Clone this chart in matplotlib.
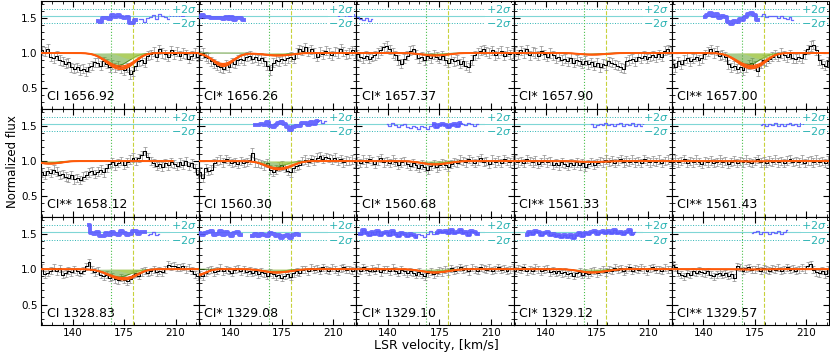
import matplotlib
matplotlib.use('Agg')
import matplotlib.pyplot as plt
import numpy as np
from matplotlib.ticker import MultipleLocator

# ---------------- data ----------------
VEL = np.arange(119, 226, 2)          # pixel centres, km/s (54 bins)

LABELS = ['CI 1656.92', 'CI* 1656.26', 'CI* 1657.37', 'CI* 1657.90', 'CI** 1657.00',
          'CI** 1658.12', 'CI 1560.30', 'CI* 1560.68', 'CI** 1561.33', 'CI** 1561.43',
          'CI 1328.83', 'CI* 1329.08', 'CI* 1329.10', 'CI* 1329.12', 'CI** 1329.57']

FLUX_1 = [1.04,1.02,1.06,0.95,0.93,0.96,0.90,0.88,0.85,0.87, 0.80,0.78,0.80,0.76,0.78,0.74,0.80,0.82,0.87,0.86,
          0.82,0.88,0.85,0.80,0.84,0.80,0.82,0.78,0.76,0.80, 0.70,0.74,0.82,0.88,0.90,0.86,0.96,0.98,1.02,0.95,
          1.05,1.00,0.98,0.95,1.04,0.98,1.02,0.96,1.00,0.98, 0.92,0.96,1.00,0.95]
FLUX_2 = [0.97,1.00,0.95,0.93,0.88,0.85,0.82,0.80,0.78,0.83, 0.80,0.87,0.85,0.90,0.92,0.90,0.95,0.96,0.92,0.94,
          0.90,0.93,0.88,0.82,0.76,0.86,0.90,0.88,0.92,0.90, 0.93,0.95,0.92,1.00,1.05,1.03,1.08,1.02,1.05,1.00,
          0.95,1.02,0.98,1.03,1.00,0.97,1.02,1.00,1.06,1.02, 0.98,1.00,1.04,1.00]
FLUX_3 = [0.98,0.95,0.93,0.96,0.92,0.95,0.97,1.00,1.04,1.08, 1.10,1.05,1.00,0.97,0.90,0.85,0.92,0.96,1.03,1.05,
          0.98,0.93,0.95,0.90,0.96,0.93,0.98,0.95,0.92,0.96, 0.90,0.86,0.92,0.88,0.90,0.85,0.88,0.82,0.80,0.90,
          0.97,1.00,1.03,1.05,1.02,1.00,1.04,0.97,1.00,1.03, 0.96,1.02,0.98,1.00]
FLUX_4 = [1.02,0.98,1.04,1.00,1.05,0.97,1.02,1.00,0.96,1.03, 0.98,0.95,1.00,0.97,0.93,0.95,0.90,0.92,0.88,0.93,
          0.86,0.90,0.88,0.85,0.89,0.84,0.87,0.82,0.86,0.80, 0.85,0.83,0.88,0.86,0.84,0.82,0.80,0.78,0.88,0.90,
          0.92,0.88,0.95,0.93,0.96,0.92,0.95,0.97,0.94,0.98, 0.95,1.03,1.05,1.02]
FLUX_5 = [0.85,0.80,0.88,0.84,0.90,0.93,0.88,0.92,0.95,0.90, 0.93,0.98,1.02,1.05,1.00,1.03,0.96,0.98,0.95,0.84,
          0.80,0.82,0.78,0.80,0.76,0.80,0.84,0.86,0.82,0.74, 0.85,0.90,0.88,0.92,0.95,0.98,0.95,1.00,0.97,0.94,
          0.98,0.93,0.92,0.95,0.93,0.98,1.05,1.10,1.12,1.04, 0.90,0.85,0.82,0.88]
FLUX_6 = [0.84,0.80,0.86,0.83,0.88,0.85,0.80,0.82,0.78,0.76, 0.80,0.74,0.76,0.73,0.78,0.80,0.84,0.86,0.82,0.85,
          0.88,0.84,0.90,0.96,0.98,0.94,0.97,1.00,0.95,0.98, 1.02,1.05,1.00,1.04,1.08,1.14,1.06,1.00,0.97,0.93,
          0.96,0.92,0.97,0.94,0.98,0.96,0.93,0.98,0.95,1.00, 0.93,0.97,0.90,0.82]
FLUX_7 = [0.85,0.76,0.90,0.86,0.88,0.97,1.00,1.02,0.98,1.03, 1.00,0.97,0.99,0.96,1.00,0.97,0.99,1.02,1.12,0.98,
          0.97,0.96,0.94,0.97,0.88,0.85,0.88,0.92,0.94,0.90, 0.86,0.84,0.90,0.93,0.95,1.00,1.02,0.99,1.03,1.01,
          1.05,1.07,1.03,1.06,1.04,1.02,1.05,1.00,1.03,0.98, 1.01,1.00,1.02,0.98]
FLUX_8 = [1.00,0.97,1.02,0.98,1.03,1.00,0.96,1.01,1.04,0.98, 1.00,0.97,1.02,0.99,0.95,0.98,1.00,0.96,0.93,0.97,
          0.94,0.90,0.95,0.92,0.88,0.93,0.96,0.91,0.94,0.97, 0.95,0.92,0.96,0.99,0.97,1.02,1.00,0.98,1.03,1.00,
          0.97,1.01,1.04,0.99,1.00,0.96,1.02,0.98,1.01,0.97, 1.03,1.00,0.98,1.01]
FLUX_9 = [1.02,0.98,1.00,0.97,1.03,1.00,0.98,1.01,0.96,0.99, 1.02,0.98,1.00,0.95,0.97,0.94,0.98,0.96,0.93,0.97,
          0.95,0.98,0.94,0.97,0.92,0.96,0.99,0.95,0.97,1.00, 0.98,1.02,0.99,1.01,0.97,1.00,1.03,0.98,1.01,0.99,
          1.02,0.98,1.00,0.97,1.03,1.00,0.98,1.01,0.99,1.02, 0.97,1.00,1.02,0.99]
FLUX_10 = [0.99,1.02,0.98,1.00,1.03,0.97,1.00,0.98,1.02,0.99, 0.96,1.00,0.98,1.01,0.97,0.99,1.02,0.98,1.00,0.96,
           0.99,1.01,0.97,1.00,0.98,1.02,0.99,0.97,1.00,1.03, 0.98,1.00,0.97,1.01,0.99,1.02,0.98,1.00,0.97,1.01,
           1.03,0.99,1.00,0.98,1.02,0.97,1.00,1.01,0.98,1.02, 0.99,1.00,0.97,1.01]
FLUX_11 = [1.02,0.93,0.95,0.98,1.02,0.97,1.01,0.92,0.94,0.98, 0.96,1.00,0.97,0.95,0.98,1.04,1.10,0.99,0.96,0.98,
           0.92,0.90,0.92,0.88,0.90,0.86,0.84,0.88,0.85,0.83, 0.86,0.92,0.94,0.91,0.96,0.98,0.95,0.97,1.00,0.96,
           0.98,0.96,1.00,1.06,1.04,1.05,1.03,1.02,1.04,1.00, 1.02,0.98,0.93,0.90]
FLUX_12 = [0.92,0.90,0.95,0.98,1.00,0.96,0.98,1.02,0.97,1.00, 0.98,0.95,0.99,1.01,0.97,1.00,0.96,0.98,0.95,0.97,
           0.93,0.96,0.94,0.91,0.95,0.93,0.90,0.92,0.88,0.91, 0.93,0.89,0.94,0.97,0.95,0.99,1.00,0.97,1.02,0.99,
           1.01,0.98,1.03,1.00,0.98,1.02,1.00,0.97,1.01,1.03, 0.99,1.00,0.98,1.02]
FLUX_13 = [1.00,0.98,1.03,0.99,0.97,1.01,0.98,1.02,0.96,0.99, 1.00,0.97,1.02,0.98,0.95,0.99,0.97,0.94,0.97,0.95,
           0.92,0.96,0.93,0.90,0.94,0.97,0.93,0.95,0.98,0.96, 0.99,0.97,1.01,0.98,1.00,1.03,0.99,1.01,0.97,1.02,
           1.00,0.98,1.03,1.01,0.99,1.02,0.98,1.00,1.03,0.99, 1.01,0.98,1.00,1.02]
FLUX_14 = [0.98,1.01,0.99,1.03,0.97,1.00,0.98,1.02,1.00,0.97, 0.99,1.01,0.96,0.98,0.95,0.97,0.94,0.96,0.93,0.95,
           0.91,0.94,0.96,0.92,0.95,0.93,0.96,0.98,0.94,0.97, 0.99,0.96,1.00,0.98,1.02,0.99,1.01,0.97,1.00,1.03,
           0.98,1.01,0.99,1.02,1.00,0.97,1.01,1.03,0.99,1.00, 0.98,1.02,1.00,0.99]
FLUX_15 = [1.06,1.03,0.95,0.92,0.90,0.94,0.92,0.97,0.95,0.98, 0.96,0.94,0.97,0.92,0.90,0.93,0.95,0.92,0.94,0.91,
           0.93,0.88,1.04,1.02,0.98,1.01,1.03,0.99,1.00,1.02, 0.98,1.01,1.00,0.98,1.01,0.99,1.02,0.98,1.00,1.03,
           0.99,1.01,0.98,1.00,1.02,1.00,1.05,1.07,0.99,0.96, 0.94,0.98,0.93,1.00]

FLUXES = [FLUX_1, FLUX_2, FLUX_3, FLUX_4, FLUX_5, FLUX_6, FLUX_7, FLUX_8,
          FLUX_9, FLUX_10, FLUX_11, FLUX_12, FLUX_13, FLUX_14, FLUX_15]
ROW_ERR = [0.065, 0.06, 0.05]

# fitted components per panel: (centre, depth, b, kind) ; kind g1/g2 = CI cloud comps, o = blend
COMPS = [
    [(170, 0.18, 8, 'g1'), (179, 0.08, 6, 'g2')],
    [(135, 0.17, 7, 'o'), (169, 0.03, 8, 'g1'), (179, 0.015, 6, 'g2')],
    [(169, 0.03, 7, 'g1'), (179, 0.015, 6, 'g2')],
    [(169, 0.02, 7, 'g1'), (179, 0.01, 6, 'g2')],
    [(170, 0.17, 8, 'g1'), (179, 0.08, 6, 'g2')],
    [(122, 0.03, 6, 'g1'), (130, 0.015, 5, 'g2')],
    [(170, 0.09, 7, 'g1'), (179, 0.05, 6, 'g2')],
    [(169, 0.04, 7, 'g1'), (179, 0.02, 6, 'g2')],
    [(169, 0.01, 7, 'g1'), (179, 0.005, 6, 'g2')],
    [(169, 0.005, 7, 'g1')],
    [(171, 0.11, 8, 'g1'), (180, 0.06, 6, 'g2')],
    [(118, 0.08, 5, 'o'), (169, 0.04, 7, 'g1'), (179, 0.02, 6, 'g2')],
    [(169, 0.04, 7, 'g1'), (179, 0.02, 6, 'g2')],
    [(169, 0.04, 7, 'g1'), (179, 0.02, 6, 'g2')],
    [(169, 0.005, 7, 'g1')],
]
MODEL_END = [226, 226, 226, 226, 226, 208, 226, 226, 226, 226, 226, 226, 226, 226, 226]

# residual display windows (km/s)
RES_THICK = [[(156, 184)], [(119, 150)], [], [], [(140, 178)],
             [], [(157, 199)], [(170, 190)], [], [],
             [(150, 190)], [(119, 147), (154, 187)], [(121, 160), (172, 202)], [(126, 200)], []]
RES_THIN = [[(184, 220)], [(213, 225)], [(118, 129)], [], [(178, 202)],
            [], [(199, 206)], [(138, 202)], [(170, 207)], [(178, 209)],
            [(190, 200)], [], [(121, 202)], [(126, 201)], [(173, 198)]]

V_COMP1 = 166
V_COMP2 = 181

# ---------------- style ----------------
ORANGE = '#ff5a0a'
BAND = '#cd7a4a'
DKGREEN = '#5fa22a'
LTGREEN = '#b5d24a'
CYAN = '#7fd6d6'
TEAL = '#2bb3b3'
RESBLUE = '#5a5aff'
RES0, RESW = 1.52, 0.10


def profile(v, comps, scale=1.0, kinds=None):
    f = np.ones_like(v, dtype=float)
    for c, d, w, k in comps:
        if kinds is None or k in kinds:
            f *= 1 - d * scale * np.exp(-0.5 * ((v - c) / w) ** 2)
    return f


fig, axes = plt.subplots(3, 5, figsize=(8.3, 3.53), dpi=100, sharex=True, sharey=True)
fig.subplots_adjust(left=41 / 830, right=0.999, top=0.998, bottom=28 / 353,
                    wspace=0, hspace=0)

for i, ax in enumerate(axes.flat):
    row, col = divmod(i, 5)
    flux = np.array(FLUXES[i])
    err = ROW_ERR[row]
    comps = COMPS[i]

    # residual reference lines
    ax.axhline(RES0, color=CYAN, lw=0.8, zorder=1)
    ax.axhline(RES0 + RESW, color=TEAL, lw=0.7, ls=':', zorder=1)
    ax.axhline(RES0 - RESW, color=TEAL, lw=0.7, ls=':', zorder=1)
    ax.text(0.985, RES0 + RESW, '$+2\\sigma$', color=TEAL, fontsize=8,
            ha='right', va='center', transform=ax.get_yaxis_transform(), zorder=7,
            bbox=dict(facecolor='white', edgecolor='none', pad=0.3))
    ax.text(0.985, RES0 - RESW, '$-2\\sigma$', color=TEAL, fontsize=8,
            ha='right', va='center', transform=ax.get_yaxis_transform(), zorder=7,
            bbox=dict(facecolor='white', edgecolor='none', pad=0.3))

    # component velocities
    ax.axvline(V_COMP1, color='#4cc04c', lw=0.8, ls=':', zorder=1)
    ax.axvline(V_COMP2, color='#c8d23c', lw=0.8, ls='--', zorder=1)

    # data
    ax.errorbar(VEL, flux, yerr=err, fmt='none', ecolor='#8c8c8c', elinewidth=0.5,
                capsize=1.1, capthick=0.5, zorder=2)
    ax.step(VEL, flux, where='mid', color='black', lw=0.75, zorder=3)

    # model
    vf = np.linspace(118, MODEL_END[i], 400)
    tot = profile(vf, comps)
    lo = profile(vf, comps, 1.12)
    hi = profile(vf, comps, 0.88)
    g1 = profile(vf, comps, kinds=('g1',))
    g2 = profile(vf, comps, kinds=('g2',))
    ax.fill_between(vf, g1, 1.0, color=DKGREEN, alpha=0.55, lw=0, zorder=4)
    ax.plot(vf, g1, color='#4a8a1a', lw=0.6, zorder=4)
    ax.fill_between(vf, g2, 1.0, color=LTGREEN, alpha=0.6, lw=0, zorder=4)
    ax.fill_between(vf, lo, hi, color=BAND, alpha=0.75, lw=0, zorder=5)
    ax.plot(vf, lo, color=ORANGE, lw=0.9, zorder=5)
    ax.plot(vf, hi, color=ORANGE, lw=0.9, zorder=5)
    ax.plot(vf, tot, color=ORANGE, lw=1.4, zorder=6)

    # residuals
    model_pix = profile(VEL.astype(float), comps)
    res = RES0 + np.clip((flux - model_pix) / err, -2.5, 2.5) * RESW / 2
    for windows, lw in ((RES_THICK[i], 2.8), (RES_THIN[i], 0.9)):
        for v0, v1 in windows:
            m = (VEL >= v0) & (VEL <= v1)
            ax.step(VEL[m], res[m], where='mid', color=RESBLUE, lw=lw, alpha=0.9, zorder=6)

    ax.text(0.035, 0.05, LABELS[i], transform=ax.transAxes, fontsize=9,
            ha='left', va='bottom', zorder=8)

    ax.set_xlim(118.3, 225.7)
    ax.set_ylim(0.21, 1.74)
    ax.xaxis.set_major_locator(MultipleLocator(35))
    ax.xaxis.set_minor_locator(MultipleLocator(7))
    ax.yaxis.set_major_locator(MultipleLocator(0.5))
    ax.yaxis.set_minor_locator(MultipleLocator(0.1))
    ax.tick_params(which='both', direction='in', top=True, right=True,
                   labelsize=7.5, pad=2.5)
    ax.tick_params(which='major', length=4, width=0.8)
    ax.tick_params(which='minor', length=2, width=0.6)
    for s in ax.spines.values():
        s.set_linewidth(0.8)

fig.text(436 / 830, 1 - 345 / 353, 'LSR velocity, [km/s]', ha='center', va='center', fontsize=9)
fig.text(12 / 830, 1 - 162 / 353, 'Normalized flux', ha='center', va='center',
         rotation=90, fontsize=8.5)

fig.savefig('out.png', dpi=100)
